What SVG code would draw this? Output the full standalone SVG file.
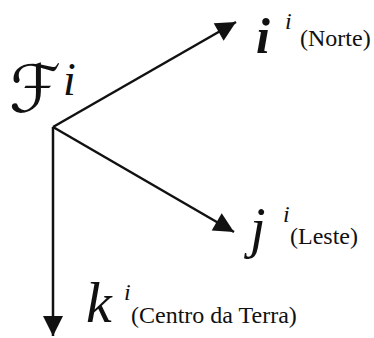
<svg xmlns="http://www.w3.org/2000/svg" width="374" height="338" viewBox="0 0 374 338">
<defs>
<style>
.ax{stroke:#111;stroke-width:2.5;fill:none}
</style>
<marker id="ah" viewBox="0 0 10 10" refX="10" refY="5" markerWidth="8.5" markerHeight="8" markerUnits="strokeWidth" orient="auto">
<path d="M0,0 L10,5 L0,10 Z" fill="#111"/>
</marker>
</defs>
<g id="connectors">
<line class="ax" x1="53" y1="127" x2="236" y2="22" marker-end="url(#ah)"/>
<line class="ax" x1="53" y1="127" x2="234" y2="232" marker-end="url(#ah)"/>
<line class="ax" x1="53" y1="127" x2="53" y2="336" marker-end="url(#ah)"/>
</g>
<g fill="#111" font-family="Liberation Serif, Times New Roman, serif">
<g id="frame">
<text x="9" y="112" font-size="66" font-family="DejaVu Sans, sans-serif">ℱ</text>
<text x="63" y="95" font-size="46" font-style="italic">i</text>
</g>
<g id="node-i">
<text x="256" y="53" font-size="50" font-style="italic" font-weight="bold">i</text>
<text x="285" y="29" font-size="24" font-style="italic">i</text>
<text x="300" y="46" font-size="24">(Norte)</text>
</g>
<g id="node-j">
<text x="250" y="247" font-size="56" font-style="italic">j</text>
<text x="283" y="222" font-size="24" font-style="italic">i</text>
<text x="290" y="244" font-size="24">(Leste)</text>
</g>
<g id="node-k">
<text x="86" y="322" font-size="58" font-style="italic">k</text>
<text x="124" y="300" font-size="24" font-style="italic">i</text>
<text x="131" y="323" font-size="24">(Centro da Terra)</text>
</g>
</g>
</svg>
